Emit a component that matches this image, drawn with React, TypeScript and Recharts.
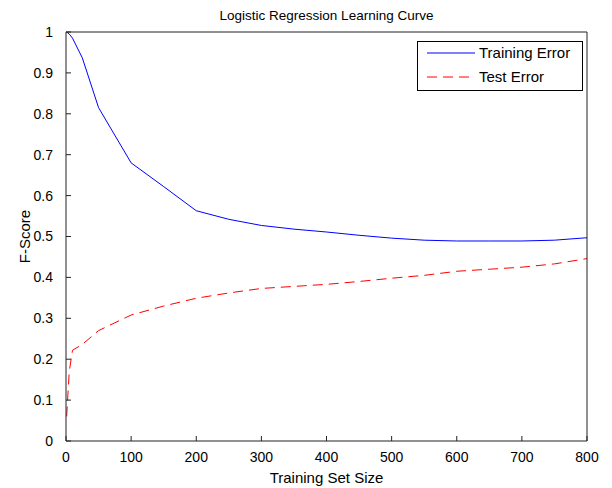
import React from 'react';
import { LineChart, Line, XAxis, YAxis, Legend } from 'recharts';

const trainingSizes = [1, 5, 10, 25, 50, 100, 150, 200, 250, 300, 350, 400, 450, 500, 550, 600, 650, 700, 750, 800];
const trainingError = [1.0, 0.995, 0.985, 0.937, 0.815, 0.68, 0.622, 0.563, 0.542, 0.527, 0.518, 0.511, 0.503, 0.496, 0.491, 0.489, 0.489, 0.489, 0.491, 0.497];
const testError = [0.06, 0.17, 0.222, 0.236, 0.27, 0.308, 0.33, 0.349, 0.362, 0.373, 0.378, 0.383, 0.39, 0.398, 0.405, 0.415, 0.42, 0.425, 0.433, 0.446];

const xTicks = [0, 100, 200, 300, 400, 500, 600, 700, 800];
const xTickLabels = ['0', '100', '200', '300', '400', '500', '600', '700', '800'];
const yTicks = [0, 0.1, 0.2, 0.3, 0.4, 0.5, 0.6, 0.7, 0.8, 0.9, 1];
const yTickLabels = ['0', '0.1', '0.2', '0.3', '0.4', '0.5', '0.6', '0.7', '0.8', '0.9', '1'];

const seriesNames = ['Training Error', 'Test Error'];
const chartTitle = 'Logistic Regression Learning Curve';
const xTitle = 'Training Set Size';
const yTitle = 'F-Score';

const data = trainingSizes.map((n, i) => ({ n, train: trainingError[i], test: testError[i] }));

const FONT = '"Liberation Sans", Arial, Helvetica, sans-serif';
const AXIS = '#222';

function LegendBox(props: any) {
  const payload = [...(props.payload || [])].sort(
    (a: any, b: any) => seriesNames.indexOf(a.value) - seriesNames.indexOf(b.value)
  );
  return (
    <div
      style={{
        width: 164,
        height: 48,
        border: '1px solid #000',
        background: '#fff',
        fontFamily: FONT,
        fontSize: 15,
        color: '#000',
        position: 'relative',
      }}
    >
      {payload.map((p: any, i: number) => (
        <div
          key={p.value}
          style={{
            position: 'absolute',
            left: 0,
            top: i === 0 ? 0 : 24,
            height: 22,
            display: 'flex',
            alignItems: 'center',
            whiteSpace: 'nowrap',
          }}
        >
          <svg width={58} height={22} style={{ display: 'block' }}>
            <line
              x1={9}
              x2={57}
              y1={11}
              y2={11}
              stroke={p.color}
              strokeWidth={1}
              strokeDasharray={p.payload && p.payload.strokeDasharray ? p.payload.strokeDasharray : undefined}
            />
          </svg>
          <span style={{ marginLeft: 3, lineHeight: '22px' }}>{p.value}</span>
        </div>
      ))}
    </div>
  );
}

const yLabelContent = (p: any) => {
  const vb = p.viewBox || { x: 0, y: 0, width: 0, height: 0 };
  const cx = vb.x + 24;
  const cy = vb.y + vb.height / 2;
  return (
    <text
      x={cx}
      y={cy}
      transform={`rotate(-90 ${cx} ${cy})`}
      textAnchor="middle"
      dominantBaseline="central"
      fill="#000"
      fontSize={15}
      fontFamily={FONT}
    >
      {yTitle}
    </text>
  );
};

export default function App() {
  return (
    <div style={{ position: 'absolute', left: 0, top: 0, width: 612, height: 488, background: '#fff' }}>
      <LineChart width={612} height={488} data={data} margin={{ top: 31, right: 24, bottom: 0, left: 0 }}>
        <XAxis
          dataKey="n"
          type="number"
          domain={[0, 800]}
          ticks={xTicks}
          interval={0}
          height={47}
          tickSize={-5}
          tickMargin={16}
          stroke={AXIS}
          axisLine={{ stroke: AXIS }}
          tickLine={{ stroke: AXIS }}
          tick={{ fill: '#000', fontSize: 14, fontFamily: FONT }}
          tickFormatter={(v: number, i: number) => xTickLabels[i]}
          label={{ value: xTitle, position: 'insideBottom', offset: 5, fill: '#000', fontSize: 15, fontFamily: FONT }}
        />
        <XAxis
          xAxisId="top"
          orientation="top"
          dataKey="n"
          type="number"
          domain={[0, 800]}
          ticks={xTicks}
          interval={0}
          height={1}
          tickSize={-5}
          tick={false}
          stroke={AXIS}
          axisLine={{ stroke: AXIS }}
          tickLine={{ stroke: AXIS }}
          label={{ value: chartTitle, position: 'top', offset: 11, fill: '#000', fontSize: 13.5, fontFamily: FONT }}
        />
        <YAxis
          type="number"
          domain={[0, 1]}
          ticks={yTicks}
          interval={0}
          width={66}
          tickSize={-5}
          tickMargin={18}
          stroke={AXIS}
          axisLine={{ stroke: AXIS }}
          tickLine={{ stroke: AXIS }}
          tick={{ fill: '#000', fontSize: 14, fontFamily: FONT }}
          tickFormatter={(v: number, i: number) => yTickLabels[i]}
          label={{ content: yLabelContent }}
        />
        <YAxis
          yAxisId="right"
          orientation="right"
          type="number"
          domain={[0, 1]}
          ticks={yTicks}
          interval={0}
          width={1}
          tickSize={-5}
          tick={false}
          stroke={AXIS}
          axisLine={{ stroke: AXIS }}
          tickLine={{ stroke: AXIS }}
        />
        <Legend
          layout="vertical"
          align="center"
          verticalAlign="middle"
          content={<LegendBox />}
          wrapperStyle={{ left: 417, top: 41, width: 166, height: 50 }}
        />
        <Line
          type="linear"
          dataKey="train"
          name={seriesNames[0]}
          stroke="#0000ff"
          strokeWidth={1}
          dot={false}
          activeDot={false}
          isAnimationActive={false}
        />
        <Line
          type="linear"
          dataKey="test"
          name={seriesNames[1]}
          stroke="#ff0000"
          strokeWidth={1}
          strokeDasharray="10 6"
          dot={false}
          activeDot={false}
          isAnimationActive={false}
        />
      </LineChart>
    </div>
  );
}
